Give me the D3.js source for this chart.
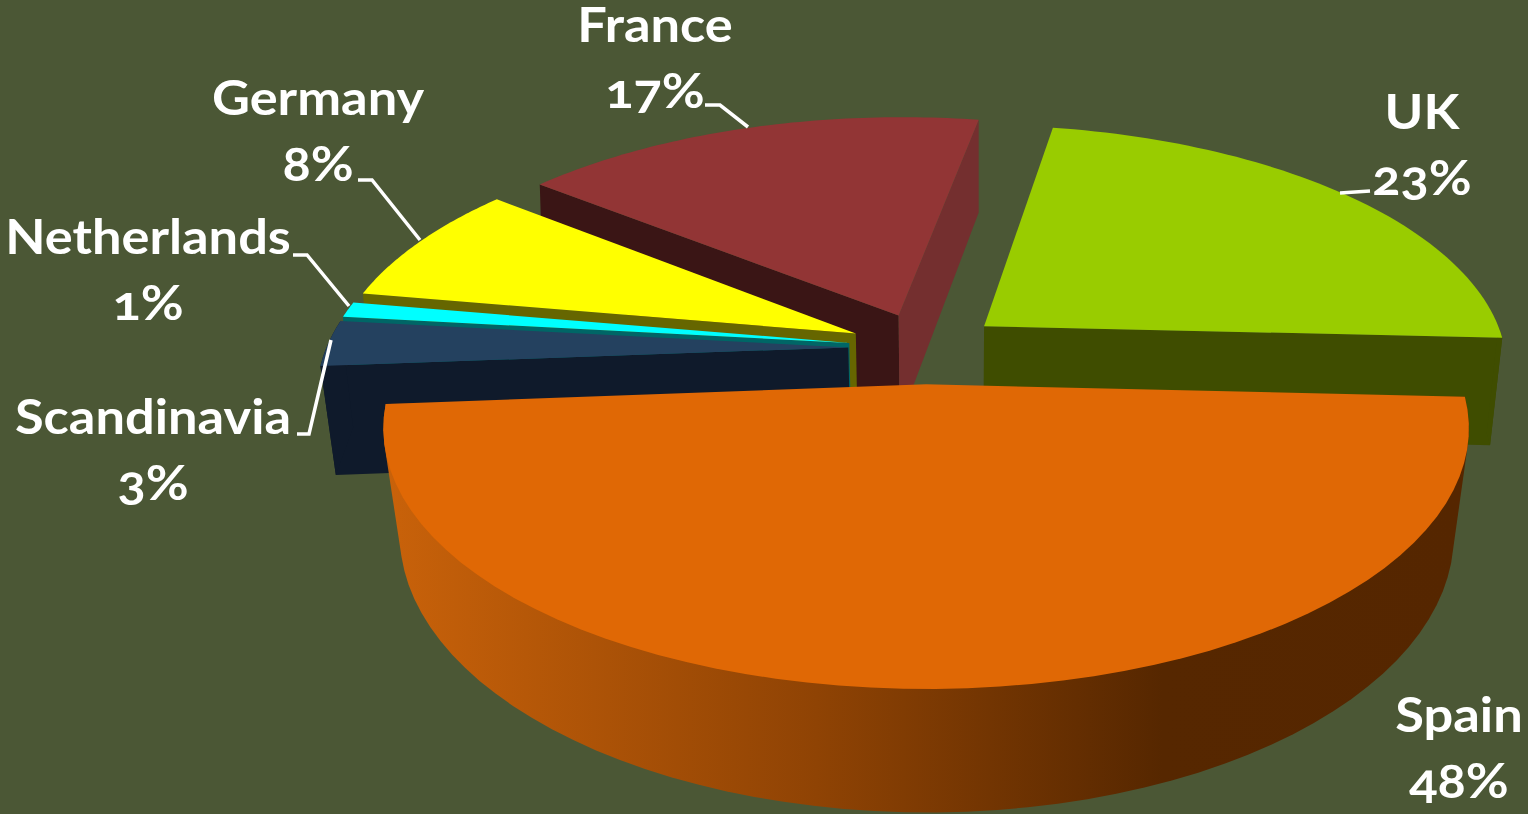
<!DOCTYPE html>
<html>
<head>
<meta charset="utf-8">
<script src="https://cdn.jsdelivr.net/npm/d3@7"></script>
<style>
html, body { margin: 0; padding: 0; background: #4b5735; overflow: hidden; }
text { font-family: Lato, "Open Sans", sans-serif; font-weight: 700; fill: #fff; font-size: 47px; font-variant-numeric: oldstyle-nums; }
</style>
</head>
<body>
<svg id="chart" width="1528" height="814"></svg>
<script>
const categories = ['UK', 'Spain', 'Scandinavia', 'Netherlands', 'Germany', 'France'];
const shares = [23, 48, 3, 1, 8, 17];
const topColors = ['#99cc00', '#e06805', '#24415f', '#00ffff', '#ffff00', '#923535'];
const startSideColors = ['#3f4d00', '#5a2900', '#0f1a2b', '#006666', '#666600', '#3a1515'];
const endSideColors = ['#3f4d00', '#5a2900', '#0f1a2b', '#006666', '#666600', '#742f2f'];
const drawOrder = ['France', 'UK', 'Germany', 'Netherlands', 'Scandinavia', 'Spain'];

const labelX = [1422, 1459, 153, 148, 318, 655];
const labelY = [129, 732, 434, 254, 115, 42];
const leaders = [
    [[1340, 193], [1370, 191]],
    [],
    [[297, 434], [309, 434], [331, 340]],
    [[293, 255], [307, 255], [349, 306]],
    [[358, 180], [372, 180], [420, 240]],
    [[705, 105], [720, 105], [748, 127]]
];

const svg = d3.select('#chart');

// flat plane -> screen, the pie is seen from above with some perspective
const view = {x0: 925, y0: 348, a: 522, b: 241, k: 0.165, explode: 0.147, height: 108};

const project = (px, py, low) => {
    const w = 1 - view.k * py;
    let sx = view.x0 + view.a * px / w;
    let sy = view.y0 + view.b * py / w;
    if (low) {
        sy += view.height * (1 + 0.125 * py);
        sx -= (sx - 950) * (0.023 + 0.02 * py);
    }
    return [sx, sy];
};

const pie = d3.pie().sort(null).startAngle(10 * Math.PI / 180).endAngle(370 * Math.PI / 180);
const arcs = pie(shares);
const line = d3.line();

const midAngle = (d) => (d.startAngle + d.endAngle) / 2;

const rimPoints = (d, a0, a1, low) => {
    const cx = Math.sin(midAngle(d)) * view.explode;
    const cy = -Math.cos(midAngle(d)) * view.explode;
    return d3.range(0, 61).map((i) => {
        const t = a0 + (a1 - a0) * i / 60;
        return project(cx + Math.sin(t), cy - Math.cos(t), low);
    });
};

const apex = (d, low) => project(Math.sin(midAngle(d)) * view.explode, -Math.cos(midAngle(d)) * view.explode, low);

const defs = svg.append('defs');
const spainGrad = defs.append('linearGradient').attr('id', 'spainWall')
    .attr('gradientUnits', 'userSpaceOnUse')
    .attr('x1', 385).attr('x2', 1465).attr('y1', 0).attr('y2', 0);
spainGrad.append('stop').attr('offset', '0').attr('stop-color', '#c9620a');
spainGrad.append('stop').attr('offset', '0.4').attr('stop-color', '#8f4304');
spainGrad.append('stop').attr('offset', '0.72').attr('stop-color', '#562700');
spainGrad.append('stop').attr('offset', '1').attr('stop-color', '#552600');

const isFacing = (d, rim) => {
    // wall under an edge shows only if dropping the edge moves it out of the slice
    const a = apex(d, false);
    const inner = project(Math.sin(midAngle(d)) * 0.8, -Math.cos(midAngle(d)) * 0.8, false);
    const ex = rim[0] - a[0], ey = rim[1] - a[1];
    return ex * (ex * (inner[1] - a[1]) - ey * (inner[0] - a[0])) < 0;
};

drawOrder.forEach((name) => {
    const i = categories.indexOf(name);
    const d = arcs[i];
    const g = svg.append('g').attr('class', 'slice').datum(d);

    // cut walls
    [[d.startAngle, startSideColors[i]], [d.endAngle, endSideColors[i]]].forEach(([angle, colour]) => {
        const rimTop = rimPoints(d, angle, angle, false)[0];
        if (!isFacing(d, rimTop)) return;
        const rimLow = rimPoints(d, angle, angle, true)[0];
        g.append('path')
            .attr('d', line([apex(d, false), rimTop, rimLow, apex(d, true)]) + 'Z')
            .attr('fill', colour);
    });

    // outer wall, only the part turned to the viewer. hull gives the straight
    // silhouette between the top rim and the bottom rim
    const a0 = Math.max(d.startAngle, Math.PI / 2);
    const a1 = Math.min(d.endAngle, 1.5 * Math.PI + 0.12);
    if (a1 > a0) {
        const hull = d3.polygonHull(rimPoints(d, a0, a1, false).concat(rimPoints(d, a0, a1, true)));
        g.append('path')
            .attr('d', line(hull) + 'Z')
            .attr('fill', name === 'Spain' ? 'url(#spainWall)' : startSideColors[i]);
    }

    // top face
    g.append('path')
        .attr('d', line([apex(d, false)].concat(rimPoints(d, d.startAngle, d.endAngle, false))) + 'Z')
        .attr('fill', topColors[i]);
});

leaders.forEach((pts) => {
    if (!pts.length) return;
    svg.append('path').attr('d', line(pts))
        .attr('fill', 'none').attr('stroke', '#fff').attr('stroke-width', 3.5);
});

// the reference type is wider than Lato, so stretch it a bit
categories.forEach((name, i) => {
    const t = svg.append('text').attr('text-anchor', 'middle')
        .attr('transform', 'translate(' + labelX[i] + ',' + labelY[i] + ') scale(1.115,1)');
    t.append('tspan').attr('x', 0).attr('y', 0).text(name);
    t.append('tspan').attr('x', 0).attr('y', 66).text(shares[i] + '%');
});
</script>
</body>
</html>
